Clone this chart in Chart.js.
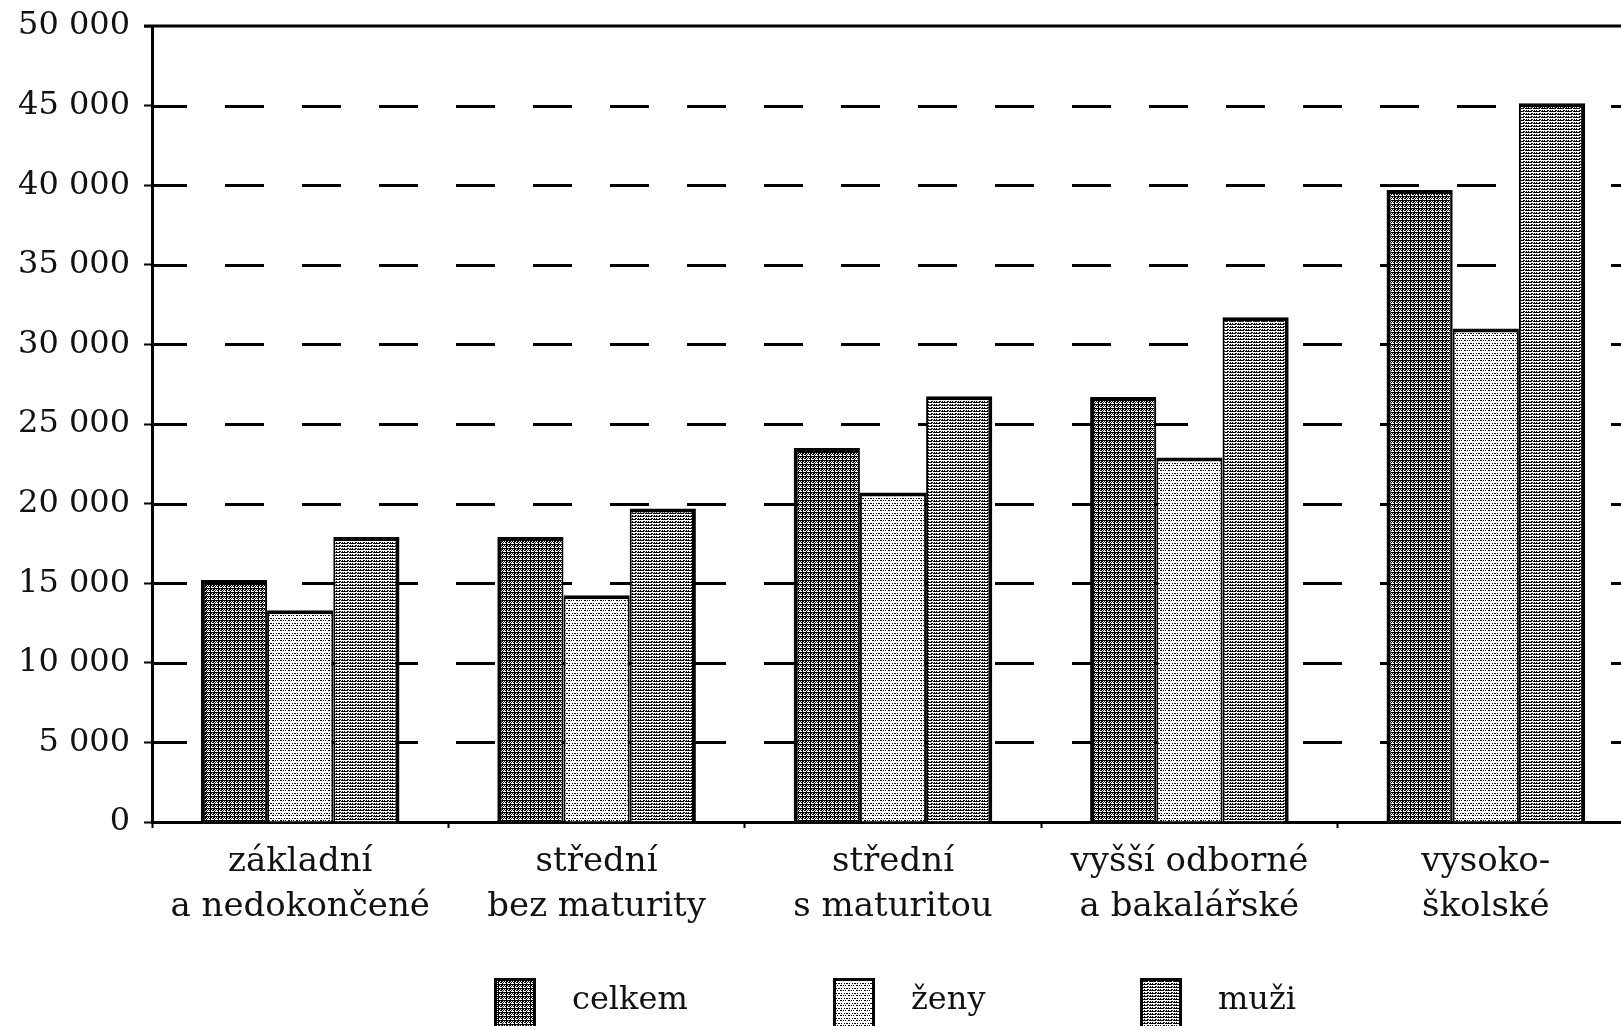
<!DOCTYPE html>
<html>
<head>
<meta charset="utf-8">
<script src="https://cdn.jsdelivr.net/npm/chart.js@4"></script>
<style>
  html, body { margin: 0; padding: 0; background: #fff; overflow: hidden; }
  #wrap { width: 1650px; height: 1026px; }
</style>
</head>
<body>
<div id="wrap"><canvas id="mzdy" width="1650" height="1026"></canvas></div>
<script>
// categories (education level), two-line labels
var categories = [
    ['základní', 'a nedokončené'],
    ['střední', 'bez maturity'],
    ['střední', 's maturitou'],
    ['vyšší odborné', 'a bakalářské'],
    ['vysoko-', 'školské']
];

// average wage in CZK
var celkem = [15200, 17900, 23500, 26700, 39700];
var zeny = [13300, 14250, 20700, 22900, 31000];
var muzi = [17900, 19700, 26750, 31700, 45150];

var seriesNames = ['celkem', 'ženy', 'muži'];

// y axis ticks
var yMin = 0, yMax = 50000, yStep = 5000;

var FONT = 'DejaVu Serif';

// build a little bitmap pattern from rows of 0/1
function makePattern(rows) {
    var c = document.createElement('canvas');
    c.width = rows[0].length;
    c.height = rows.length;
    var g = c.getContext('2d');
    g.fillStyle = '#fff';
    g.fillRect(0, 0, c.width, c.height);
    g.fillStyle = '#000';
    for (var y = 0; y < rows.length; y++) {
        for (var x = 0; x < rows[y].length; x++) {
            if (rows[y][x] === '1') g.fillRect(x, y, 1, 1);
        }
    }
    return g.createPattern(c, 'repeat');
}

var patCelkem = makePattern([
    '11111111',
    '10110110',
    '01101101',
    '00100010'
]);
var patZeny = makePattern([
    '11010100',
    '00000000',
    '00000000',
    '01001011',
    '00000000'
]);
var patMuzi = makePattern([
    '11110111',
    '00000000',
    '10011010'
]);

function fmt(v) {
    if (v === 0) return '0';
    return Math.floor(v / 1000) + ' 000';
}

// dashed grid behind the bars (dash 39, gap 38), solid frame line on top
var gridLines = {
    id: 'gridLines',
    beforeDatasetsDraw: function (chart) {
        var ctx = chart.ctx, a = chart.chartArea, ys = chart.scales.y;
        ctx.save();
        ctx.fillStyle = '#000';
        ys.ticks.forEach(function (t) {
            if (t.value === yMin || t.value === yMax) return;
            var y = Math.round(ys.getPixelForValue(t.value)) - 1;
            for (var x = a.left - 4; x < chart.width; x += 77) {
                var x0 = Math.max(x, a.left);
                var x1 = Math.min(x + 39, chart.width);
                ctx.fillRect(x0, y, x1 - x0, 3);
            }
        });
        ctx.restore();
    },
    afterDatasetsDraw: function (chart) {
        var ctx = chart.ctx, a = chart.chartArea;
        ctx.save();
        ctx.strokeStyle = '#000';
        ctx.lineWidth = 3;
        ctx.beginPath();
        ctx.moveTo(a.left - 8, a.top);
        ctx.lineTo(chart.width, a.top);
        ctx.stroke();
        ctx.restore();
    }
};

// legend drawn by hand so the spacing matches the printed one
var legendPlugin = {
    id: 'printLegend',
    afterDraw: function (chart) {
        var ctx = chart.ctx;
        var xs = [494, 833, 1140];
        ctx.save();
        ctx.font = '32px "' + FONT + '"';
        ctx.textBaseline = 'middle';
        chart.data.datasets.forEach(function (ds, i) {
            var x = xs[i], y = 978;
            ctx.fillStyle = ds.backgroundColor;
            ctx.fillRect(x, y, 42, 50);
            ctx.lineWidth = 3;
            ctx.strokeStyle = '#000';
            ctx.strokeRect(x + 1.5, y + 1.5, 39, 50);
            ctx.fillStyle = '#111';
            ctx.fillText(ds.label, x + 42 + 36, 1001);
        });
        ctx.restore();
    }
};

var ctx = document.getElementById('mzdy').getContext('2d');
var chart = new Chart(ctx, {
    type: 'bar',
    data: {
        labels: categories,
        datasets: [{
            label: seriesNames[0],
            data: celkem,
            backgroundColor: patCelkem,
            borderColor: '#000',
            borderWidth: {top: 4, left: 4, right: 2, bottom: 0}
        }, {
            label: seriesNames[1],
            data: zeny,
            backgroundColor: patZeny,
            borderColor: '#000',
            borderWidth: {top: 4, left: 2, right: 2, bottom: 0}
        }, {
            label: seriesNames[2],
            data: muzi,
            backgroundColor: patMuzi,
            borderColor: '#000',
            borderWidth: {top: 4, left: 2, right: 4, bottom: 0}
        }]
    },
    options: {
        responsive: false,
        animation: false,
        devicePixelRatio: 1,
        layout: { padding: { top: 26, right: 16, left: 0, bottom: 0 } },
        datasets: {
            bar: { categoryPercentage: 0.67, barPercentage: 1.0 }
        },
        plugins: {
            legend: { display: false },
            tooltip: { enabled: false }
        },
        scales: {
            x: {
                afterFit: function (scale) { scale.height = 204; },
                grid: {
                    drawOnChartArea: false,
                    drawTicks: true,
                    tickLength: 6,
                    tickWidth: 2,
                    tickColor: '#000'
                },
                border: { display: true, color: '#000', width: 3 },
                ticks: {
                    color: '#111',
                    padding: 12,
                    maxRotation: 0,
                    autoSkip: false,
                    font: { family: FONT, size: 34, lineHeight: 1.32 }
                }
            },
            y: {
                min: yMin,
                max: yMax,
                afterFit: function (scale) {
                    scale.width = 152;
                    scale.paddingTop = 0;
                    scale.paddingBottom = 0;
                },
                grid: {
                    drawOnChartArea: false,
                    drawTicks: true,
                    tickLength: 8,
                    tickWidth: 2,
                    tickColor: '#000'
                },
                border: { display: true, color: '#000', width: 3 },
                ticks: {
                    stepSize: yStep,
                    color: '#111',
                    padding: 14,
                    font: { family: FONT, size: 32 },
                    callback: function (v) { return fmt(v); }
                }
            }
        }
    },
    plugins: [gridLines, legendPlugin]
});
</script>
</body>
</html>
